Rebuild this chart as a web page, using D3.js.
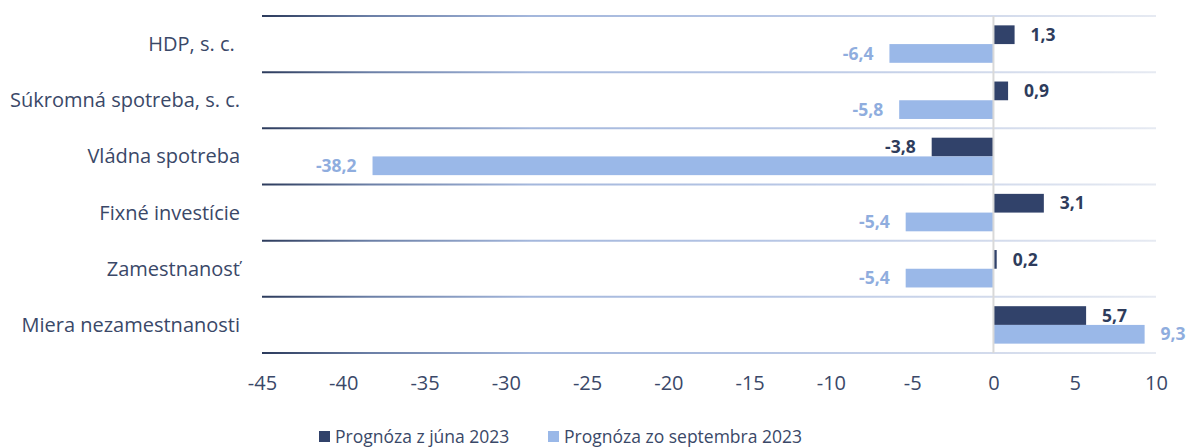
<!DOCTYPE html>
<html>
<head>
<meta charset="utf-8">
<script src="https://cdn.jsdelivr.net/npm/d3@7"></script>
<style>
    body { margin: 0; background: #fff; }
    svg text { font-family: "Open Sans", "Noto Sans", sans-serif; }
    .catText { font-size: 20px; fill: #3a4868; }
    .tickText { font-size: 20px; fill: #3a4868; }
    .valText { font-size: 17.5px; font-weight: 700; }
    .legendText { font-size: 17.5px; fill: #3a4868; }
</style>
</head>
<body>
<svg id="chart" width="1187" height="448"></svg>
<script>
// Data.
var categories = ['HDP, s. c. ', 'Súkromná spotreba, s. c.', 'Vládna spotreba', 'Fixné investície', 'Zamestnanosť', 'Miera nezamestnanosti'];
var seriesNames = ['Prognóza z júna 2023', 'Prognóza zo septembra 2023'];
var juneValues = [1.3, 0.9, -3.8, 3.1, 0.2, 5.7];
var septValues = [-6.4, -5.8, -38.2, -5.4, -5.4, 9.3];
var xTicks = [-45, -40, -35, -30, -25, -20, -15, -10, -5, 0, 5, 10];

var seriesColors = ['#31426a', '#9ab8e8'],
    labelColors = ['#2e3c5c', '#8fadde'];

var svg = d3.select( '#chart' ),
    plot = { left: 262, right: 1156, top: 16, bottom: 353 },
    rows = categories.map( ( c, i ) => ( { name: c, values: [juneValues[i], septValues[i]] } ) );

var x = d3.scaleLinear()
    .domain( [xTicks[0], xTicks[xTicks.length - 1]] )
    .range( [plot.left, plot.right] );

var y = d3.scaleBand()
    .domain( categories )
    .range( [plot.top, plot.bottom] )
    .padding( 0 );

// Two bars per category, half a bar of space above and below.
var ySub = d3.scaleBand()
    .domain( [0, 1] )
    .range( [0, y.bandwidth()] )
    .paddingInner( 0 )
    .paddingOuter( 0.5 );

// Gradient for the category separator lines.
var grad = svg.append( 'defs' )
    .append( 'linearGradient' )
    .attr( 'id', 'gridGrad' )
    .attr( 'gradientUnits', 'userSpaceOnUse' )
    .attr( 'x1', plot.left ).attr( 'x2', plot.right )
    .attr( 'y1', 0 ).attr( 'y2', 0 );
[[0, '#2c3b5c'], [0.12, '#6b7fa6'], [0.3, '#a4b7dc'], [0.55, '#b4c4e4'], [0.82, '#d3dbec'], [1, '#e6eaf2']]
    .forEach( s => grad.append( 'stop' ).attr( 'offset', s[0] ).attr( 'stop-color', s[1] ) );

var bounds = categories.map( c => y( c ) ).concat( [plot.bottom] );
svg.append( 'g' )
    .selectAll( 'line' )
    .data( bounds )
    .join( 'line' )
    .attr( 'x1', plot.left )
    .attr( 'x2', plot.right )
    .attr( 'y1', d => d )
    .attr( 'y2', d => d )
    .attr( 'stroke', 'url(#gridGrad)' )
    .attr( 'stroke-width', 2 );

// Bars.
var rowGroups = svg.append( 'g' )
    .selectAll( 'g' )
    .data( rows )
    .join( 'g' )
    .attr( 'transform', d => `translate(0,${y( d.name )})` );

rowGroups.each( function ( row ) {
    var g = d3.select( this );
    row.values.forEach( function ( v, i ) {
        g.append( 'rect' )
            .attr( 'x', x( Math.min( 0, v ) ) )
            .attr( 'y', ySub( i ) )
            .attr( 'width', Math.abs( x( v ) - x( 0 ) ) )
            .attr( 'height', ySub.bandwidth() )
            .attr( 'fill', seriesColors[i] );

        g.append( 'text' )
            .attr( 'class', 'valText' )
            .attr( 'x', v >= 0 ? x( v ) + 16 : x( v ) - 16 )
            .attr( 'y', ySub( i ) + ySub.bandwidth() / 2 )
            .attr( 'dy', '0.35em' )
            .attr( 'text-anchor', v >= 0 ? 'start' : 'end' )
            .attr( 'fill', labelColors[i] )
            .text( d3.format( '.1f' )( v ).replace( '.', ',' ).replace( '−', '-' ) );
    } );
} );

// Zero line.
svg.append( 'line' )
    .attr( 'x1', x( 0 ) ).attr( 'x2', x( 0 ) )
    .attr( 'y1', plot.top ).attr( 'y2', plot.bottom )
    .attr( 'stroke', '#d9d9d9' )
    .attr( 'stroke-width', 2 );

// Category labels.
svg.append( 'g' )
    .selectAll( 'text' )
    .data( categories )
    .join( 'text' )
    .attr( 'class', 'catText' )
    .attr( 'x', 240 )
    .attr( 'y', d => y( d ) + y.bandwidth() / 2 )
    .attr( 'dy', '0.35em' )
    .attr( 'text-anchor', 'end' )
    .style( 'white-space', 'pre' )
    .text( d => d );

// X axis, labels only.
var xAxis = svg.append( 'g' )
    .attr( 'transform', `translate(0,${plot.bottom + 20})` )
    .call( d3.axisBottom( x ).tickValues( xTicks ).tickSize( 0 ).tickFormat( d => String( d ) ) );
xAxis.select( '.domain' ).remove();
xAxis.selectAll( 'text' )
    .attr( 'class', 'tickText' )
    .attr( 'fill', null )
    .attr( 'font-size', null )
    .attr( 'font-family', null );
xAxis.attr( 'font-size', null ).attr( 'font-family', null );

// Legend.
var legendX = [319, 548],
    legend = svg.append( 'g' )
        .selectAll( 'g' )
        .data( seriesNames )
        .join( 'g' )
        .attr( 'transform', ( d, i ) => `translate(${legendX[i]},437)` );
legend.append( 'rect' )
    .attr( 'x', 0 ).attr( 'y', -6 )
    .attr( 'width', 11 ).attr( 'height', 11 )
    .attr( 'fill', ( d, i ) => seriesColors[i] );
legend.append( 'text' )
    .attr( 'class', 'legendText' )
    .attr( 'x', 16 )
    .attr( 'dy', '0.35em' )
    .text( d => d );
</script>
</body>
</html>
